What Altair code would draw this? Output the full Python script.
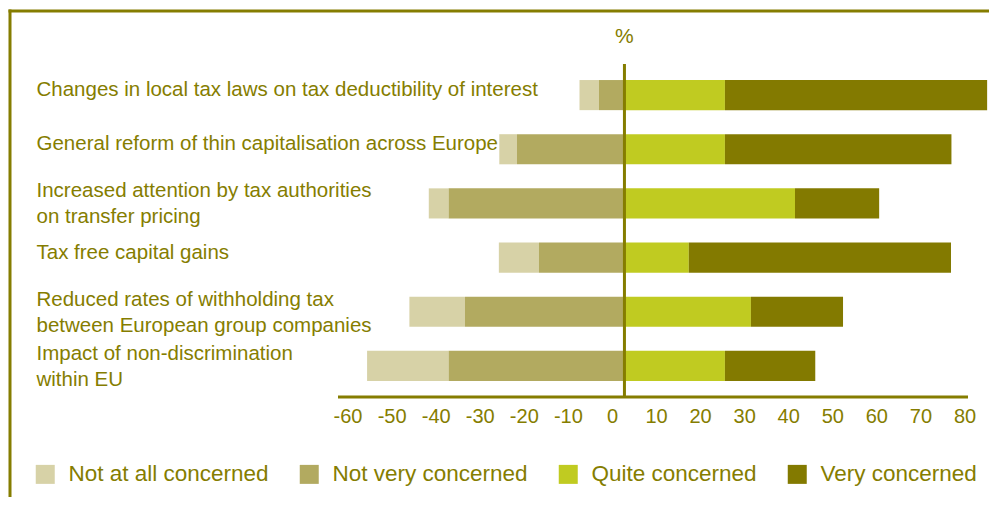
import altair as alt
import pandas as pd

# ---- data ----
categories = [
    "Changes in local tax laws on tax deductibility of interest",
    "General reform of thin capitalisation across Europe",
    "Increased attention by tax authorities|on transfer pricing",
    "Tax free capital gains",
    "Reduced rates of withholding tax|between European group companies",
    "Impact of non-discrimination|within EU",
]
not_at_all = [4.4, 4.0, 4.5, 9.1, 12.6, 18.5]
not_very = [5.8, 24.4, 39.9, 19.4, 36.2, 39.9]
quite = [22.8, 22.8, 38.7, 14.6, 28.7, 22.8]
very = [59.5, 51.4, 19.1, 59.5, 20.9, 20.5]

levels = ["Not at all concerned", "Not very concerned", "Quite concerned", "Very concerned"]
level_colors = ["#d7d2a7", "#b2aa60", "#c0cb21", "#837a00"]
tick_labels = [-60, -50, -40, -30, -20, -10, 0, 10, 20, 30, 40, 50, 60, 70, 80]

INK = "#857d00"
FONT = "Liberation Sans"

rows = []
for c, na, nv, q, v in zip(categories, not_at_all, not_very, quite, very):
    rows.append({"cat": c, "level": levels[0], "start": -(nv + na), "end": -nv})
    rows.append({"cat": c, "level": levels[1], "start": -nv, "end": 0})
    rows.append({"cat": c, "level": levels[2], "start": 0, "end": q})
    rows.append({"cat": c, "level": levels[3], "start": q, "end": q + v})
df = pd.DataFrame(rows)
one = pd.DataFrame({"t": ["%"]})

bars = alt.Chart(df).mark_bar().encode(
    y=alt.Y(
        "cat:N",
        sort=categories,
        scale=alt.Scale(paddingInner=0.444, paddingOuter=0.296),
        axis=alt.Axis(
            title=None, ticks=False, domain=False, labelAlign="left",
            labelBaseline="middle", labelPadding=302, labelLimit=700,
            labelFontSize=20.5, labelColor=INK, labelFont=FONT,
            labelLineHeight=26, labelExpr="split(datum.label, '|')",
            labelOffset={"condition": {"test": "indexof(datum.value, '|') >= 0", "value": -12},
                         "value": -5},
        ),
    ),
    x=alt.X(
        "start:Q",
        scale=alt.Scale(domain=[-65, 80], nice=False, zero=False),
        axis=alt.Axis(
            title=None, values=tick_labels, ticks=False, domain=False, grid=False,
            labelFontSize=20, labelColor=INK, labelFont=FONT, labelPadding=9,
            labelOffset=-12.5, labelFlush=False, labelOverlap=False,
            labelExpr="toString(datum.value)",
        ),
    ),
    x2="end:Q",
    color=alt.Color(
        "level:N",
        scale=alt.Scale(domain=levels, range=level_colors),
        legend=alt.Legend(
            title=None, orient="none", legendX=-304, legendY=399,
            direction="horizontal", columns=4, symbolType="square",
            symbolSize=361, symbolStrokeWidth=0, symbolOpacity=1,
            labelFontSize=22.5, labelColor=INK, labelFont=FONT,
            labelOffset=12, columnPadding=29, padding=0, labelLimit=400,
        ),
    ),
)

zero_line = alt.Chart(one).mark_rule(color=INK, strokeWidth=3).encode(
    x=alt.datum(0), y=alt.value(0), y2=alt.value(333)
)
axis_line = alt.Chart(one).mark_rule(color=INK, strokeWidth=3).encode(
    x=alt.value(0), x2=alt.value(630), y=alt.value(333)
)
pct = alt.Chart(one).mark_text(color=INK, fontSize=21, font=FONT).encode(
    x=alt.datum(0), y=alt.value(-27), text="t:N"
)
frame_left = alt.Chart(one).mark_rule(color=INK, strokeWidth=3).encode(
    x=alt.value(-328), y=alt.value(-54.5), y2=alt.value(460)
)
frame_top = alt.Chart(one).mark_rule(color=INK, strokeWidth=3).encode(
    x=alt.value(-329.5), x2=alt.value(700), y=alt.value(-53)
)

chart = alt.layer(bars, zero_line, axis_line, pct, frame_left, frame_top).properties(
    width=639,
    height=333,
    autosize=alt.AutoSizeParams(type="none"),
    padding={"left": 330, "top": 56, "right": 12, "bottom": 100},
).configure(font=FONT, view=alt.ViewConfig(stroke=None))

chart.save("out.html", embed_options={"renderer": "svg", "actions": False})
